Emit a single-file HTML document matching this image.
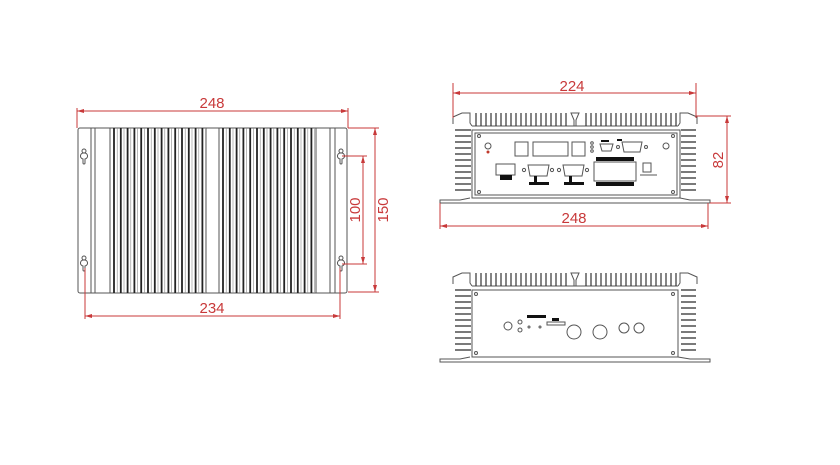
<!DOCTYPE html>
<html><head><meta charset="utf-8"><style>
html,body{margin:0;padding:0;background:#fff;width:840px;height:465px;overflow:hidden}
svg{display:block}
text{font-family:"Liberation Sans",sans-serif;fill:#c8393a}
</style></head><body>
<svg id="s" width="840" height="465" viewBox="0 0 840 465" xmlns="http://www.w3.org/2000/svg">
<g fill="none" stroke="#555" stroke-width="1">
<rect x="78" y="128" width="269" height="165" rx="2"/>
<line x1="91" y1="128" x2="91" y2="293"/><line x1="95" y1="128" x2="95" y2="293"/>
<line x1="110" y1="128" x2="110" y2="293"/>
<line x1="206" y1="128" x2="206" y2="293"/><line x1="219" y1="128" x2="219" y2="293"/>
<line x1="316" y1="128" x2="316" y2="293"/>
<line x1="330" y1="128" x2="330" y2="293"/><line x1="335" y1="128" x2="335" y2="293"/>
<g id="finsL"></g>
<path d="M84 149 a2 2 0 0 1 0 4 a3 3 0 0 1 1 6 v4 a1 1 0 0 1 -2 0 v-4 a3 3 0 0 1 1 -6 a2 2 0 0 1 0 -4z"/>
<path d="M84 256 a2 2 0 0 1 0 4 a3 3 0 0 1 1 6 v4 a1 1 0 0 1 -2 0 v-4 a3 3 0 0 1 1 -6 a2 2 0 0 1 0 -4z"/>
<path d="M341 149 a2 2 0 0 1 0 4 a3 3 0 0 1 1 6 v4 a1 1 0 0 1 -2 0 v-4 a3 3 0 0 1 1 -6 a2 2 0 0 1 0 -4z"/>
<path d="M341 256 a2 2 0 0 1 0 4 a3 3 0 0 1 1 6 v4 a1 1 0 0 1 -2 0 v-4 a3 3 0 0 1 1 -6 a2 2 0 0 1 0 -4z"/>

<path d="M453 124 L453 117 L462 113 L470 113 L470 123 L472 126"/>
<path d="M697 124 L697 117 L688 113 L680 113 L680 123 L678 126"/>
<line x1="472" y1="126" x2="678" y2="126"/>
<rect x="472" y="130" width="208" height="68"/>
<rect x="475" y="133" width="202" height="62"/>
<path d="M470 198 L460 200 L440 200 L440 203 L710 203 L710 200 L690 200 L680 198"/>
<path d="M571 113 L579 113 L576 120 L576 126 L574 126 L574 120 Z"/>
<g id="finsT"></g>
<circle cx="479" cy="136" r="1.5"/><circle cx="673" cy="136" r="1.5"/>
<circle cx="479" cy="192" r="1.5"/><circle cx="673" cy="192" r="1.5"/>
<circle cx="488" cy="146" r="3"/><circle cx="666" cy="146" r="3"/>
<rect x="515" y="142" width="13" height="14"/>
<rect x="533" y="142" width="35" height="14"/>
<rect x="572" y="142" width="13" height="14"/>
<circle cx="592" cy="143" r="1.3"/><circle cx="592" cy="147" r="1.3"/><circle cx="592" cy="151" r="1.3"/>
<path d="M600 144 L613 144 L611 151 L602 151 Z"/>
<path d="M622 142 L642 142 L640 152 L624 152 Z"/><circle cx="618" cy="147" r="1.5"/><circle cx="646" cy="147" r="1.5"/>
<rect x="496" y="164" width="19" height="11"/>
<path d="M528 165 L549 165 L547 176 L530 176 Z"/><circle cx="524" cy="170" r="1.6"/><circle cx="552" cy="170" r="1.6"/>
<path d="M563 165 L584 165 L582 176 L565 176 Z"/><circle cx="559" cy="170" r="1.6"/><circle cx="587" cy="170" r="1.6"/>
<rect x="594" y="162" width="42" height="19"/>
<rect x="643" y="163" width="8" height="9"/><line x1="640" y1="175" x2="657" y2="175"/>

<path d="M453 284 L453 277 L462 273 L470 273 L470 283 L472 286"/>
<path d="M697 284 L697 277 L688 273 L680 273 L680 283 L678 286"/>
<line x1="472" y1="286" x2="678" y2="286"/>
<rect x="472" y="290" width="206" height="67"/>
<path d="M470 357 L460 359 L440 359 L440 362 L710 362 L710 359 L690 359 L678 357"/>
<path d="M571 273 L579 273 L576 280 L576 286 L574 286 L574 280 Z"/>
<g id="finsB"></g>
<circle cx="476" cy="294" r="1.5"/><circle cx="673" cy="294" r="1.5"/>
<circle cx="476" cy="353" r="1.5"/><circle cx="673" cy="353" r="1.5"/>
<circle cx="508" cy="326" r="4"/><circle cx="520" cy="322" r="2"/><circle cx="520" cy="330" r="2"/>
<circle cx="529" cy="327" r="1"/><circle cx="540" cy="327" r="1"/>
<rect x="547" y="322" width="18" height="3"/>
<circle cx="574" cy="332" r="7"/><circle cx="600" cy="332" r="7"/>
<circle cx="624" cy="328" r="5"/><circle cx="639" cy="328" r="5"/>
</g>
<g fill="#111">
<rect x="500" y="175" width="12" height="5"/>
<rect x="534" y="176" width="3" height="6"/><rect x="529" y="182" width="20" height="3"/>
<rect x="569" y="176" width="3" height="6"/><rect x="564" y="182" width="20" height="3"/>
<rect x="596" y="157" width="38" height="4"/><rect x="596" y="182" width="38" height="4"/>
<rect x="617" y="139" width="5" height="2"/><rect x="601" y="140" width="8" height="2"/>
<rect x="527" y="315" width="19" height="3"/><rect x="552" y="318" width="7" height="3"/>
<circle cx="488" cy="152" r="1.5" fill="#c0392b"/>
</g>
<g stroke="#c8393a" stroke-width="1" fill="none">
<line x1="77" y1="108" x2="77" y2="128"/><line x1="348" y1="108" x2="348" y2="128"/>
<line x1="77" y1="111" x2="348" y2="111"/>
<line x1="348" y1="128" x2="379" y2="128"/><line x1="348" y1="292" x2="379" y2="292"/>
<line x1="375" y1="128" x2="375" y2="292"/>
<line x1="342" y1="156" x2="367" y2="156"/><line x1="342" y1="264" x2="367" y2="264"/>
<line x1="363" y1="156" x2="363" y2="264"/>
<line x1="85" y1="268" x2="85" y2="319"/><line x1="340" y1="268" x2="340" y2="319"/>
<line x1="85" y1="316" x2="340" y2="316"/>
<line x1="453" y1="83" x2="453" y2="118"/><line x1="696" y1="83" x2="696" y2="118"/>
<line x1="453" y1="93" x2="696" y2="93"/>
<line x1="696" y1="116" x2="731" y2="116"/><line x1="710" y1="203" x2="731" y2="203"/>
<line x1="727" y1="116" x2="727" y2="203"/>
<line x1="440" y1="203" x2="440" y2="229"/><line x1="708" y1="203" x2="708" y2="229"/>
<line x1="440" y1="226" x2="708" y2="226"/>
</g>
<g fill="#c8393a">
<path d="M77 111 l7 -2 v4z M348 111 l-7 -2 v4z M85 316 l7 -2 v4z M340 316 l-7 -2 v4z
M375 128 l-2 7 h4z M375 292 l-2 -7 h4z M363 156 l-2 7 h4z M363 264 l-2 -7 h4z
M453 93 l7 -2 v4z M696 93 l-7 -2 v4z M440 226 l7 -2 v4z M708 226 l-7 -2 v4z
M727 116 l-2 7 h4z M727 203 l-2 -7 h4z"/>
</g>
<g font-size="15">
<text x="212" y="108" text-anchor="middle">248</text>
<text x="212" y="313" text-anchor="middle">234</text>
<text x="572" y="91" text-anchor="middle">224</text>
<text x="574" y="223" text-anchor="middle">248</text>
<text transform="translate(360 210) rotate(-90)" text-anchor="middle">100</text>
<text transform="translate(388 210) rotate(-90)" text-anchor="middle">150</text>
<text transform="translate(723 160) rotate(-90)" text-anchor="middle">82</text>
</g>
</svg>
<script>
var NS="http://www.w3.org/2000/svg";
function ln(g,x1,y1,x2,y2,w,c){var l=document.createElementNS(NS,"line");l.setAttribute("x1",x1);l.setAttribute("y1",y1);l.setAttribute("x2",x2);l.setAttribute("y2",y2);l.setAttribute("stroke-width",w);l.setAttribute("stroke",c);g.appendChild(l);}
var gL=document.getElementById("finsL");
[[114,204],[223,314]].forEach(function(r){for(var x=r[0];x<=r[1];x+=6.8){ln(gL,x,128,x,293,1.8,"#222");ln(gL,x+3.2,128,x+3.2,293,0.6,"#888");}});
function tops(g,y1,y2){for(var x=476;x<=676;x+=5){if(x>568&&x<582)continue;ln(g,x,y1,x,y2,1.2,"#333");}}
function sides(g,y1,y2){for(var y=y1;y<=y2;y+=6){ln(g,455,y,471,y,1.3,"#333");ln(g,681,y,696,y,1.3,"#333");}}
var gT=document.getElementById("finsT");tops(gT,113,126);sides(gT,130,195);
var gB=document.getElementById("finsB");tops(gB,273,286);sides(gB,290,354);
</script>
</body></html>
